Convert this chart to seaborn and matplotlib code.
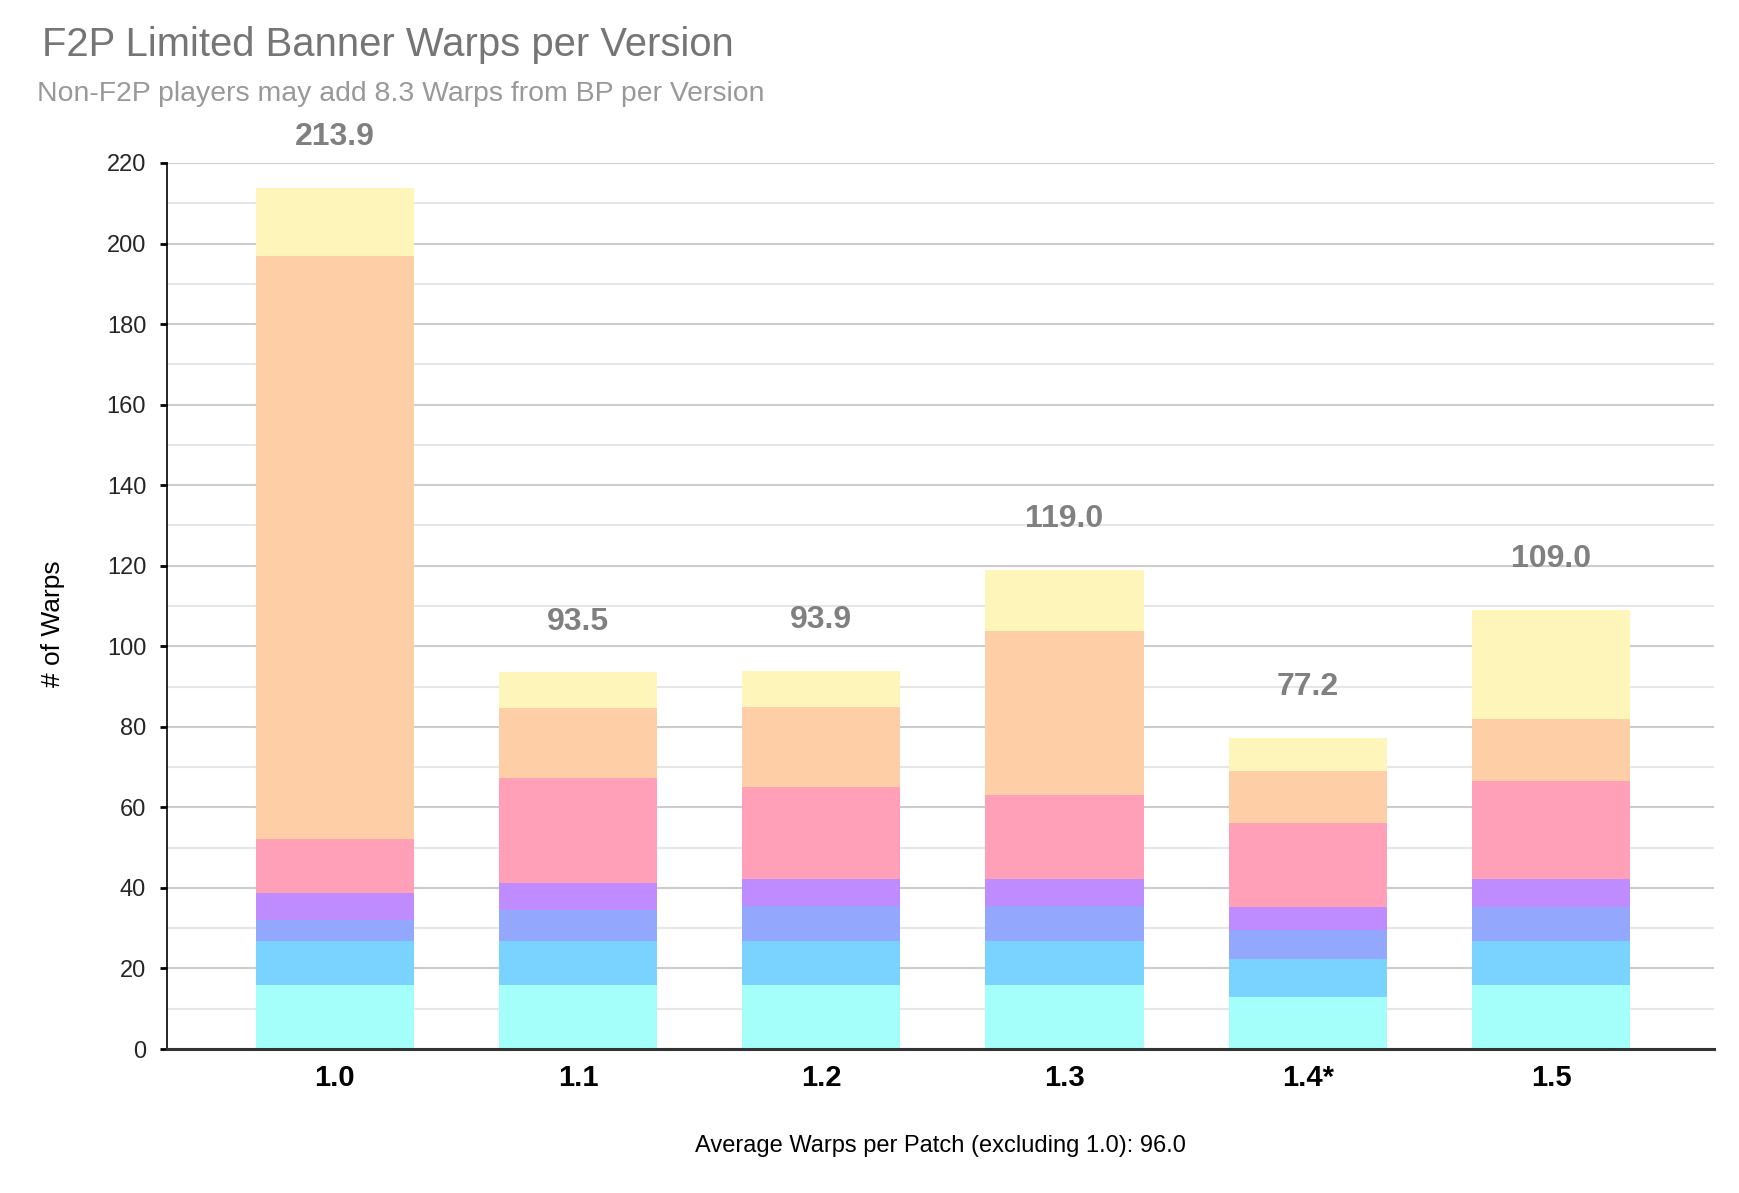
import matplotlib
matplotlib.use("Agg")
import matplotlib.pyplot as plt
import numpy as np
import pandas as pd
import seaborn as sns

# Data
versions = ["1.0", "1.1", "1.2", "1.3", "1.4*", "1.5"]
layer_cyan = [16.0, 16.0, 16.0, 16.0, 13.0, 16.0]
layer_blue = [10.8, 10.8, 10.8, 10.8, 9.4, 10.8]
layer_periwinkle = [5.2, 7.6, 8.6, 8.6, 7.1, 8.5]
layer_purple = [6.8, 6.9, 6.8, 6.8, 5.8, 7.0]
layer_pink = [13.4, 25.9, 22.9, 20.9, 20.9, 24.2]
layer_peach = [144.7, 17.4, 19.8, 40.8, 12.9, 15.5]
layer_yellow = [17.0, 8.9, 9.0, 15.1, 8.1, 27.0]

layers = [layer_cyan, layer_blue, layer_periwinkle, layer_purple,
          layer_pink, layer_peach, layer_yellow]
colors = ["#a4fffb", "#79d2ff", "#93a8fc", "#be8cff",
          "#ffa0b8", "#fecfa7", "#fef5ba"]

sns.set_style("white")
plt.rcParams["font.family"] = ["Liberation Sans", "DejaVu Sans"]

fig = plt.figure(figsize=(17.4, 11.93), dpi=100)
ax = fig.add_axes([0.096, 0.1207, 0.889, 0.7427])

# stacked bars: draw cumulative totals from the top layer down
cum = np.cumsum(np.array(layers), axis=0)
for i in range(len(layers) - 1, -1, -1):
    df = pd.DataFrame({"Version": versions, "Warps": cum[i]})
    sns.barplot(data=df, x="Version", y="Warps", color=colors[i],
                width=0.65, saturation=1, edgecolor="none", linewidth=0,
                ax=ax, zorder=3)

totals = cum[-1]
for i, t in enumerate(totals):
    ax.text(i, t + 12.6, f"{t:.1f}", ha="center", va="center",
            fontsize=23, fontweight="bold", color="#808080", zorder=5)

ax.set_ylim(0, 220)
ax.set_xlim(-0.69, 5.67)
ax.set_yticks(np.arange(0, 221, 20))
ax.set_yticks(np.arange(10, 220, 20), minor=True)
ax.grid(axis="y", which="major", color="#cccccc", linewidth=1.5, zorder=0)
ax.grid(axis="y", which="minor", color="#e6e6e6", linewidth=1.5, zorder=0)
ax.set_axisbelow(True)

for s in ["top", "right"]:
    ax.spines[s].set_visible(False)
ax.spines["left"].set_color("black")
ax.spines["left"].set_linewidth(1.2)
ax.spines["bottom"].set_color("#333333")
ax.spines["bottom"].set_linewidth(2.2)
ax.spines["bottom"].set_zorder(4)

ax.tick_params(axis="y", which="major", length=5, width=2, color="black",
               labelsize=17, pad=10, direction="out", left=True)
ax.tick_params(axis="y", which="minor", length=0)
ax.tick_params(axis="x", length=0, labelsize=21, pad=11)
for lbl in ax.get_xticklabels():
    lbl.set_fontweight("bold")
    lbl.set_color("black")

ax.set_ylabel("# of Warps", fontsize=19, color="black")
ax.yaxis.set_label_coords(-0.066, 0.48)
ax.set_xlabel("Average Warps per Patch (excluding 1.0): 96.0", fontsize=17,
              color="black")
ax.xaxis.set_label_coords(0.5, -0.097)

fig.text(0.024, 0.962, "F2P Limited Banner Warps per Version", fontsize=28.8,
         color="#757575", ha="left", va="center")
fig.text(0.021, 0.921, "Non-F2P players may add 8.3 Warps from BP per Version",
         fontsize=20.4, color="#999999", ha="left", va="center")

fig.savefig("out.png", dpi=100)
